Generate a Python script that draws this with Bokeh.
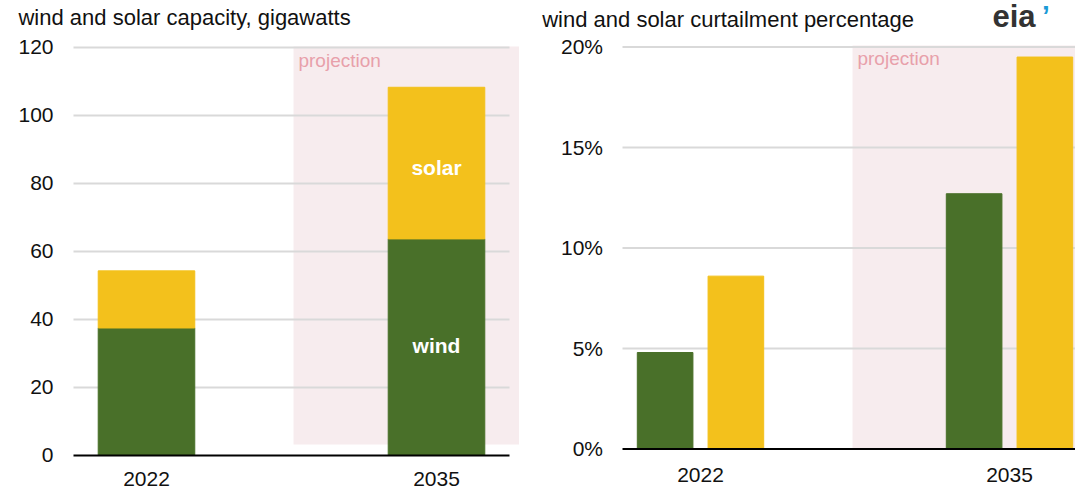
from bokeh.plotting import figure
from bokeh.models import Range1d
from bokeh.layouts import row
from bokeh.embed import file_html
from bokeh.resources import INLINE
from bokeh.core.properties import value

# ---------------- data ----------------
years = ["2022", "2035"]
cap_wind = [37.5, 63.7]
cap_solar = [16.8, 44.6]
curt_wind = [4.8, 12.7]
curt_solar = [8.6, 19.5]
cap_ticks = [0, 20, 40, 60, 80, 100, 120]
cap_tick_labels = ["0", "20", "40", "60", "80", "100", "120"]
curt_ticks = [0, 5, 10, 15, 20]
curt_tick_labels = ["0%", "5%", "10%", "15%", "20%"]
series_names = ["wind", "solar"]
left_title = "wind and solar capacity, gigawatts"
right_title = "wind and solar curtailment percentage"
proj_text = "projection"

GREEN = "#497029"
YELLOW = "#f3c11c"
SHADE = "#f7ecee"
PINK = "#e8a0aa"
GRID = "#d9d9d9"
TXT = "#111111"
FONT = "Liberation Sans"
FS = "21px"
TFS = "22px"

xs = list(range(len(years)))


def make_fig(w, xr, yr):
    p = figure(width=w, height=490, x_range=Range1d(*xr), y_range=Range1d(*yr),
               output_backend="svg", toolbar_location=None,
               x_axis_location=None, y_axis_location=None,
               min_border_left=0, min_border_right=0, min_border_top=0, min_border_bottom=0)
    p.xgrid.visible = False
    p.ygrid.visible = False
    p.outline_line_color = None
    p.background_fill_color = "white"
    p.border_fill_color = "white"
    return p


def txt(p, x, y, t, size=FS, color=TXT, align="left", baseline="middle", style="normal"):
    p.text(x=x, y=y, text=t, text_color=color, text_font=value(FONT), text_font_size=size,
           text_font_style=style, text_align=align, text_baseline=baseline)


# ---------------- left: capacity ----------------
# frame covers the whole canvas; 0 at 455px, 3.4 px per GW, 2022 centre at 146px, 290 px per slot
p1 = make_fig(540, (-0.5034, 1.3586), (-10.294, 133.82))

p1.quad(left=[0.507], right=[1.2845], bottom=[3.24], top=[120.3], fill_color=SHADE, line_color=None)
gx0, gx1 = -0.2517, 1.2517
n1 = len(cap_ticks) - 1
p1.segment(x0=[gx0] * n1, x1=[gx1] * n1, y0=cap_ticks[1:], y1=cap_ticks[1:], line_color=GRID, line_width=2)

bw = 0.333
total_top = [w + s for w, s in zip(cap_wind, cap_solar)]
p1.vbar(x=xs, width=bw, bottom=0, top=cap_wind, fill_color=GREEN, line_color=GREEN)
p1.vbar(x=xs, width=bw, bottom=cap_wind, top=total_top, fill_color=YELLOW, line_color=YELLOW)
p1.segment(x0=[gx0], x1=[gx1], y0=[0], y1=[0], line_color="#000000", line_width=2)

txt(p1, [xs[1], xs[1]], [cap_wind[1] / 2 + 0.6, cap_wind[1] + cap_solar[1] / 2 - 1.3], series_names,
    color="white", align="center", style="bold")
txt(p1, [0.524], [116.2], [proj_text], size="19px", color=PINK)

# axis texts
txt(p1, [-0.3207] * len(cap_ticks), cap_ticks, cap_tick_labels, align="right")
txt(p1, xs, [-6.9] * len(xs), years, align="center")
txt(p1, [-0.4414], [128.68], [left_title], size=TFS)

# ---------------- right: curtailment ----------------
# 0 at 448.5px, 20.1 px per percent, 2022 centre at 700px (local 160), 309 px per slot
p2 = make_fig(535, (-0.5178, 1.2136), (-2.065, 22.313))

p2.quad(left=[0.492], right=[1.3], bottom=[0], top=[20.07], fill_color=SHADE, line_color=None)
rx0, rx1 = -0.2524, 1.3
n2 = len(curt_ticks) - 1
p2.segment(x0=[rx0] * n2, x1=[rx1] * n2, y0=curt_ticks[1:], y1=curt_ticks[1:], line_color=GRID, line_width=2)
off = 0.1145
bw2 = 0.18
p2.vbar(x=[x - off for x in xs], width=bw2, bottom=0, top=curt_wind, fill_color=GREEN, line_color=GREEN)
p2.vbar(x=[x + off for x in xs], width=bw2, bottom=0, top=curt_solar, fill_color=YELLOW, line_color=YELLOW)
p2.segment(x0=[rx0], x1=[rx1], y0=[0], y1=[0], line_color="#000000", line_width=2)
txt(p2, [0.508], [19.42], [proj_text], size="19px", color=PINK)

txt(p2, [-0.3155] * len(curt_ticks), curt_ticks, curt_tick_labels, align="right")
txt(p2, xs, [-1.28] * len(xs), years, align="center")
txt(p2, [-0.5123], [21.38], [right_title], size=TFS)

# eia logo
txt(p2, [0.945], [21.52], ["eia"], size="31px", color="#333333", style="bold")
txt(p2, [1.105], [21.55], ["\u2019"], size="28px", color="#1a9ad6", style="bold")

layout = row(p1, p2)
open("out.html", "w").write(file_html(layout, INLINE))
